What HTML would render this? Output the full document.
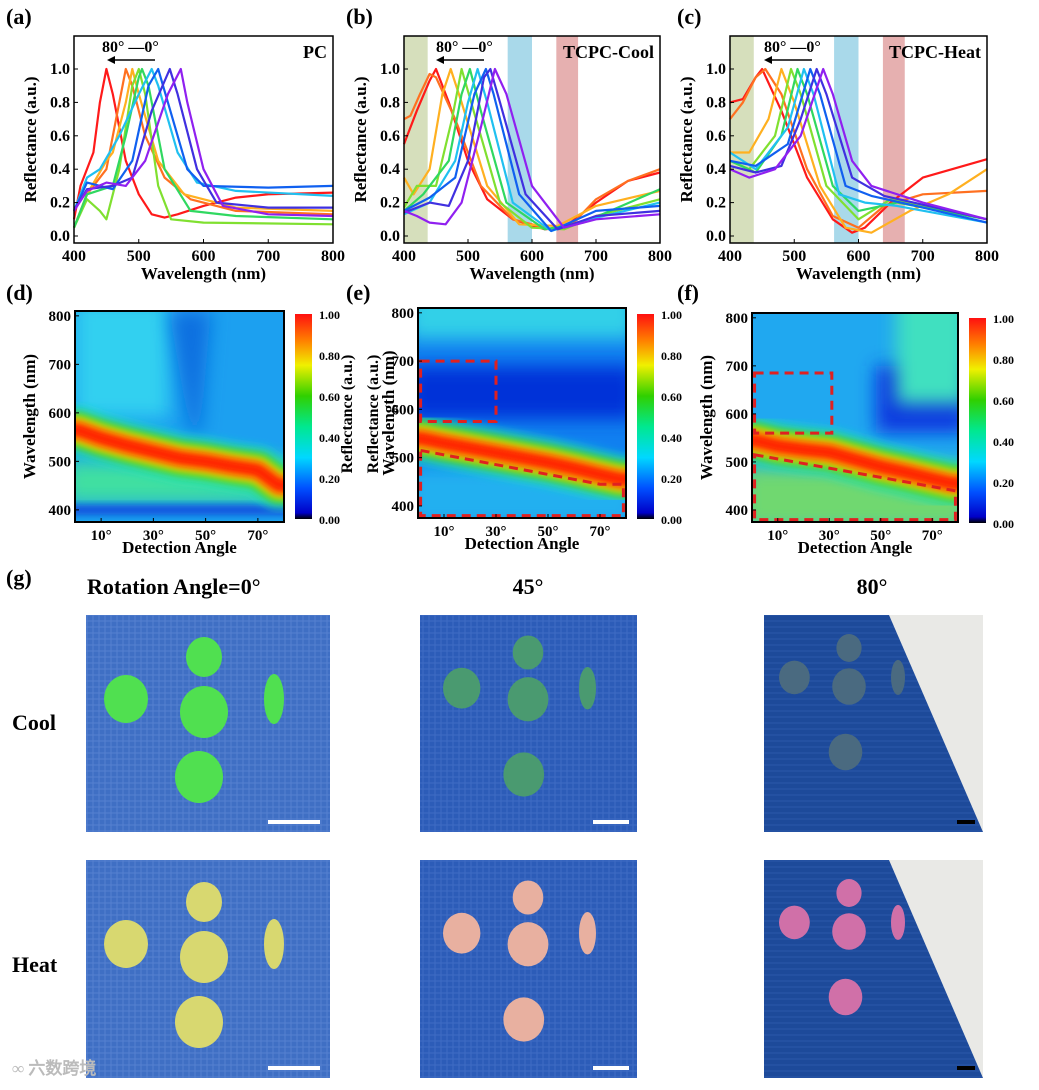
<!DOCTYPE html>
<html><head><meta charset="utf-8">
<style>
body{margin:0;background:#fff;width:1039px;height:1085px;overflow:hidden;font-family:"Liberation Serif",serif}
svg text{font-family:"Liberation Serif",serif;font-weight:bold}
</style></head>
<body>
<svg id="fig" width="1039" height="1085" viewBox="0 0 1039 1085" xmlns="http://www.w3.org/2000/svg">
<defs>
<filter id="blur4" x="-50%" y="-50%" width="200%" height="200%"><feGaussianBlur stdDeviation="4"/></filter>
<filter id="blur8" x="-50%" y="-50%" width="200%" height="200%"><feGaussianBlur stdDeviation="9"/></filter>
<filter id="blur2" x="-50%" y="-50%" width="200%" height="200%"><feGaussianBlur stdDeviation="2"/></filter>
<linearGradient id="cbar" x1="0" y1="1" x2="0" y2="0">
<stop offset="0" stop-color="#000"/><stop offset="0.03" stop-color="#0000c8"/><stop offset="0.15" stop-color="#0050ff"/><stop offset="0.3" stop-color="#00d8ff"/><stop offset="0.45" stop-color="#00e890"/><stop offset="0.6" stop-color="#30d000"/><stop offset="0.75" stop-color="#f0f000"/><stop offset="0.87" stop-color="#ff8000"/><stop offset="1" stop-color="#ff1010"/>
</linearGradient>
<pattern id="weave" width="6" height="6" patternUnits="userSpaceOnUse"><rect width="6" height="6" fill="#3f6fc4"/><path d="M0 3h6M3 0v6" stroke="#5580d0" stroke-width="1"/></pattern>
<pattern id="weave2" width="6" height="6" patternUnits="userSpaceOnUse"><rect width="6" height="6" fill="#2c5cb8"/><path d="M0 3h6M3 0v6" stroke="#3f6cc4" stroke-width="1"/></pattern>
<pattern id="weave3" width="6" height="6" patternUnits="userSpaceOnUse"><rect width="6" height="6" fill="#1d4a9a"/><path d="M0 3h6" stroke="#2a58aa" stroke-width="1"/></pattern>
</defs>
<g id="root"></g>
</svg>
<script>
// ---------- DATA ----------
const colorsA = ['#ff1a1a','#ff7020','#ffb020','#80e030','#30d860','#20c0f0','#1060f0','#4030e0','#9020f0'];
const seriesA = [
[[400,.1],[410,.3],[430,.5],[440,.8],[450,1],[460,.85],[480,.45],[500,.25],[520,.13],[540,.11],[560,.13],[600,.18],[650,.23],[700,.25],[800,.26]],
[[400,.05],[420,.25],[450,.4],[470,.8],[480,1],[490,.9],[510,.6],[540,.35],[580,.22],[650,.15],[800,.13]],
[[400,.05],[420,.25],[450,.45],[460,.5],[480,.8],[490,1],[500,.85],[530,.45],[570,.25],[650,.17],[800,.15]],
[[400,.05],[420,.22],[440,.15],[450,.1],[470,.4],[490,.9],[500,1],[510,.85],[530,.3],[550,.1],[600,.08],[800,.07]],
[[400,.05],[420,.25],[460,.3],[480,.6],[500,.95],[505,1],[515,.9],[540,.4],[580,.15],[650,.12],[800,.1]],
[[400,.15],[420,.35],[440,.4],[470,.6],[500,.85],[520,1],[530,.9],[560,.5],[590,.32],[650,.27],[800,.24]],
[[400,.15],[420,.32],[460,.28],[490,.45],[515,.9],[530,1],[545,.8],[575,.4],[600,.3],[700,.29],[800,.3]],
[[400,.15],[420,.28],[460,.3],[490,.35],[520,.75],[548,1],[560,.85],[590,.4],[620,.2],[700,.17],[800,.17]],
[[400,.15],[420,.27],[450,.32],[480,.3],[510,.45],[545,.85],[565,1],[575,.8],[600,.4],[630,.18],[700,.13],[800,.12]]
];
const seriesB = [
[[400,.55],[420,.75],[440,.93],[450,1],[470,.8],[500,.45],[530,.22],[570,.1],[620,.04],[650,.05],[700,.2],[750,.33],[800,.38]],
[[400,.7],[410,.72],[425,.85],[440,.97],[450,.95],[480,.7],[520,.3],[570,.1],[630,.04],[660,.06],[700,.22],[750,.33],[800,.4]],
[[400,.35],[415,.25],[440,.4],[460,.85],[473,1],[490,.8],[530,.3],[580,.07],[640,.06],[700,.18],[800,.27]],
[[400,.17],[420,.3],[450,.3],[475,.7],[490,1],[505,.8],[550,.2],[600,.05],[650,.04],[700,.12],[800,.22]],
[[400,.15],[430,.25],[470,.45],[490,.85],[503,1],[520,.75],[560,.2],[620,.04],[680,.08],[800,.28]],
[[400,.13],[440,.2],[480,.45],[500,.8],[515,1],[530,.8],[570,.2],[630,.03],[690,.1],[800,.2]],
[[400,.15],[440,.23],[480,.35],[510,.85],[528,1],[540,.85],[580,.25],[630,.03],[700,.15],[800,.18]],
[[400,.14],[440,.2],[470,.18],[500,.45],[525,.95],[535,1],[550,.8],[590,.25],[640,.04],[700,.12],[800,.15]],
[[400,.15],[420,.12],[440,.08],[465,.07],[490,.2],[520,.65],[542,1],[560,.85],[600,.3],[650,.05],[700,.1],[800,.13]]
];
const seriesC = [
[[400,.8],[420,.82],[440,.95],[450,1],[480,.75],[520,.35],[560,.1],[590,.02],[610,.05],[650,.2],[700,.35],[800,.46]],
[[400,.7],[420,.8],[440,.95],[455,1],[480,.85],[520,.4],[560,.12],[600,.05],[640,.18],[700,.25],[800,.27]],
[[400,.5],[430,.5],[460,.7],[480,1],[500,.8],[540,.3],[580,.05],[620,.02],[680,.15],[740,.25],[800,.4]],
[[400,.45],[430,.4],[470,.6],[495,1],[510,.85],[550,.3],[600,.1],[650,.22],[700,.18],[800,.1]],
[[400,.45],[440,.38],[480,.6],[505,1],[520,.85],[560,.3],[600,.15],[660,.2],[800,.1]],
[[400,.5],[440,.4],[490,.65],[515,1],[530,.85],[570,.25],[610,.2],[660,.18],[800,.08]],
[[400,.45],[440,.42],[490,.55],[525,1],[540,.85],[580,.3],[620,.24],[700,.17],[800,.08]],
[[400,.42],[440,.38],[480,.42],[510,.7],[535,1],[550,.85],[590,.35],[640,.24],[800,.1]],
[[400,.4],[430,.35],[470,.4],[510,.6],[545,1],[560,.85],[590,.45],[620,.3],[700,.2],[800,.1]]
];
const heatAngles = [1,10,20,30,40,50,60,70,78];
const peaksD = [565,548,533,520,507,500,490,482,450];
const peaksE = [540,530,520,510,500,490,478,465,455];
const peaksF = [545,533,526,520,505,490,478,465,455];
const xTicksLine = [400,500,600,700,800];
const yTicksLine = [0,0.2,0.4,0.6,0.8,1.0];
const heatXTicks = [10,30,50,70];
const heatYTicks = [400,500,600,700,800];
const cbarTicks = ['0.00','0.20','0.40','0.60','0.80','1.00'];

// ---------- helpers ----------
const NS='http://www.w3.org/2000/svg';
const root=document.getElementById('root');
function el(tag,attrs,parent,text){const e=document.createElementNS(NS,tag);for(const k in attrs)e.setAttribute(k,attrs[k]);if(text!==undefined)e.textContent=text;(parent||root).appendChild(e);return e;}

function lineChart(px,py,pw,ph,series,label,name,bands,arrowX,annX){
  const g=el('g',{});
  
  
  const top=py, y0=py+200, y1=py+33;
  const sx=w=>px+(w-400)/400*pw;
  const sy=r=>y0-(r)*(y0-y1);
  if(bands){bands.forEach(b=>{const r=el('rect',{x:sx(b[0]),y:top,width:sx(b[1])-sx(b[0]),height:ph,fill:b[2]},g);});}
  series.forEach((s,i)=>{
    const d=s.map((p,j)=>(j?'L':'M')+sx(p[0]).toFixed(1)+' '+sy(p[1]).toFixed(1)).join(' ');
    const p=el('path',{d:d,fill:'none',stroke:colorsA[i],'stroke-width':2.2,'stroke-linejoin':'round'},g);
    
    
  });
  el('rect',{x:px,y:top,width:pw,height:ph,fill:'none',stroke:'#000','stroke-width':1.5},g);
  xTicksLine.forEach(t=>{el('line',{x1:sx(t),x2:sx(t),y1:top+ph,y2:top+ph-4,stroke:'#000'},g);
    const tx=el('text',{x:sx(t),y:top+ph+18,'text-anchor':'middle','font-size':16},g,t);});
  yTicksLine.forEach(t=>{el('line',{x1:px,x2:px+4,y1:sy(t),y2:sy(t),stroke:'#000'},g);
    const tx=el('text',{x:px-4,y:sy(t)+5,'text-anchor':'end','font-size':16},g,t.toFixed(1));});
  const xt=el('text',{x:px+pw/2,y:top+ph+36,'text-anchor':'middle','font-size':17},g,'Wavelength (nm)');
  const yt=el('text',{transform:`translate(${px-38},${top+ph/2}) rotate(-90)`,'text-anchor':'middle','font-size':17},g,'Reflectance (a.u.)');
  const lb=el('text',{x:px+pw-6,y:top+22,'text-anchor':'end','font-size':18},g,label);
  const an=el('text',{x:annX,y:top+16,'font-size':16},g,'80°  —0°');
  el('line',{x1:arrowX+48,x2:arrowX+4,y1:top+24,y2:top+24,stroke:'#000','stroke-width':1.5},g);
  el('path',{d:`M${arrowX} ${top+24} l8 -4 l0 8z`,fill:'#000'},g);
}

function heatmap(px,py,pw,ph,peaks,name,bgFn,boxes,cbx,cby,cbLabelSide,ytitleX){
  const g=el('g',{});
  
  
  const sx=a=>px+(a-0)/80*pw;
  const sy=w=>py+ph-(w-375)/(810-375)*ph;
  const cid='clip'+name;
  const cp=el('clipPath',{id:cid},g);el('rect',{x:px,y:py,width:pw,height:ph},cp);
  const inner=el('g',{'clip-path':`url(#${cid})`},g);
  bgFn(inner,px,py,pw,ph,sy);
  const pts=heatAngles.map((a,i)=>sx(a).toFixed(1)+','+sy(peaks[i]).toFixed(1)).join(' ');
  const ext=`${px-10},${sy(peaks[0]).toFixed(1)} `+pts+` ${px+pw+10},${sy(peaks[peaks.length-1]).toFixed(1)}`;
  [[50,'#20e0c0',0.6],[36,'#40d020',0.9],[26,'#d8f000',1],[19,'#ff8000',1],[11,'#ff1800',1]].forEach(b=>{
    const l=el('polyline',{points:ext,fill:'none',stroke:b[1],'stroke-width':b[0],'stroke-opacity':b[2],'stroke-linejoin':'round',filter:'url(#blur4)'},inner);
    
    
  });
  if(boxes){boxes(g,sx,sy);}
  el('rect',{x:px,y:py,width:pw,height:ph,fill:'none',stroke:'#000','stroke-width':2},g);
  heatXTicks.forEach(t=>{el('line',{x1:sx(t),x2:sx(t),y1:py+ph,y2:py+ph-4,stroke:'#000'},g);
    const tx=el('text',{x:sx(t),y:py+ph+18,'text-anchor':'middle','font-size':15},g,t+'°');});
  heatYTicks.forEach(t=>{el('line',{x1:px,x2:px+4,y1:sy(t),y2:sy(t),stroke:'#000'},g);
    const tx=el('text',{x:px-4,y:sy(t)+5,'text-anchor':'end','font-size':15},g,t);});
  const xt=el('text',{x:px+pw/2,y:py+ph+31,'text-anchor':'middle','font-size':17},g,'Detection Angle');
  const yt=el('text',{transform:`translate(${ytitleX},${py+ph/2}) rotate(-90)`,'text-anchor':'middle','font-size':17},g,'Wavelength (nm)');
  const cb=el('rect',{x:cbx,y:cby,width:17,height:205,fill:'url(#cbar)'},g);
  cbarTicks.forEach((t,i)=>{const tx=el('text',{x:cbx+24,y:cby+205-i*41+5,'font-size':12},g,t);});
  if(cbLabelSide){const cl=el('text',{transform:`translate(${cbLabelSide},${cby+100}) rotate(-90)`,'text-anchor':'middle','font-size':16},g,'Reflectance (a.u.)');}
}

// ---------- panel labels ----------
[['(a)',6,24],['(b)',346,24],['(c)',677,24],['(d)',6,300],['(e)',346,300],['(f)',677,300],['(g)',6,585]].forEach(l=>{
  const t=el('text',{x:l[1],y:l[2],'font-size':22},root,l[0]);
});

lineChart(74,36,259,207,seriesA,'PC','chart-a-pc',null,107,102);
lineChart(404,36,256,207,seriesB,'TCPC-Cool','chart-b-tcpc-cool',[[400,437,'#d6dfbc'],[562,600,'#a9d9ea'],[638,672,'#e6b0b0']],436,436);
lineChart(730,36,257,207,seriesC,'TCPC-Heat','chart-c-tcpc-heat',[[400,437,'#d6dfbc'],[562,600,'#a9d9ea'],[638,672,'#e6b0b0']],764,764);

function bgD(g,px,py,pw,ph,sy){
  el('rect',{x:px,y:py,width:pw,height:ph,fill:'#1ca0f0'},g);
  el('rect',{x:px,y:py-10,width:pw*0.45,height:ph*0.55,fill:'#30d0f0',filter:'url(#blur8)'},g);
  el('path',{d:`M${px+pw*0.45} ${py} L${px+pw*0.65} ${py} L${px+pw*0.6} ${sy(560)} L${px+pw*0.55} ${sy(560)}z`,fill:'#0a70e0',filter:'url(#blur8)'},g);
  el('rect',{x:px-10,y:sy(500),width:pw+20,height:sy(415)-sy(500),fill:'#40e0a0',filter:'url(#blur8)'},g);
  el('rect',{x:px-10,y:sy(410),width:pw+20,height:sy(390)-sy(410),fill:'#0848e0',filter:'url(#blur4)'},g);
}
function bgE(g,px,py,pw,ph,sy){
  el('rect',{x:px,y:py,width:pw,height:ph,fill:'#1080f0'},g);
  el('rect',{x:px-10,y:sy(690),width:pw+20,height:sy(580)-sy(690),fill:'#0030d8',filter:'url(#blur8)'},g);
  el('rect',{x:px-10,y:py-20,width:pw+20,height:sy(745)-py+20,fill:'#30d0e8',filter:'url(#blur8)'},g);
  el('rect',{x:px-10,y:sy(480),width:pw+20,height:sy(360)-sy(480),fill:'#20b0f0',filter:'url(#blur8)'},g);
}
function bgF(g,px,py,pw,ph,sy){
  el('rect',{x:px,y:py,width:pw,height:ph,fill:'#20a8f0'},g);
  el('rect',{x:px+pw*0.6,y:sy(700),width:pw*0.4+10,height:sy(560)-sy(700),fill:'#0838e0',filter:'url(#blur8)'},g);
  el('rect',{x:px+pw*0.7,y:py-20,width:pw*0.3+10,height:sy(620)-py+20,fill:'#40e0c0',filter:'url(#blur8)'},g);
  el('rect',{x:px-10,y:sy(490),width:pw+20,height:sy(360)-sy(490),fill:'#70d870',filter:'url(#blur8)'},g);
}
function boxesE(g,sx,sy){
  el('rect',{x:sx(1),y:sy(700),width:sx(30)-sx(1),height:sy(575)-sy(700),fill:'none',stroke:'#e02020','stroke-width':3,'stroke-dasharray':'9 6'},g);
  el('path',{d:`M${sx(1)} ${sy(515)} L${sx(70)} ${sy(445)} L${sx(79)} ${sy(445)} L${sx(79)} ${sy(380)} L${sx(1)} ${sy(380)}z`,fill:'none',stroke:'#e02020','stroke-width':3,'stroke-dasharray':'9 6'},g);
}
function boxesF(g,sx,sy){
  el('rect',{x:sx(1),y:sy(685),width:sx(31)-sx(1),height:sy(560)-sy(685),fill:'none',stroke:'#e02020','stroke-width':3,'stroke-dasharray':'9 6'},g);
  el('path',{d:`M${sx(1)} ${sy(515)} L${sx(79)} ${sy(440)} L${sx(79)} ${sy(380)} L${sx(1)} ${sy(380)}z`,fill:'none',stroke:'#e02020','stroke-width':3,'stroke-dasharray':'9 6'},g);
}
heatmap(75,311,209,211,peaksD,'heatmap-d',bgD,null,295,314,352,35);
heatmap(418,308,208,210,peaksE,'heatmap-e',bgE,boxesE,637,314,378,394);
heatmap(752,313,206,209,peaksF,'heatmap-f',bgF,boxesF,969,318,0,712);

// ---------- photo grid ----------
[['Rotation Angle=0°',87,594,'start'],['45°',528,594,'middle'],['80°',872,594,'middle'],['Cool',12,730,'start'],['Heat',12,972,'start']].forEach(l=>{
  const t=el('text',{x:l[1],y:l[2],'font-size':22,'text-anchor':l[3]},root,l[0]);
});
const photoCols=[[86,244,'url(#weave)'],[420,217,'url(#weave2)'],[764,219,'url(#weave3)']];
const photoRows=[[615,217],[860,218]];
const shapeColors=[['#50e050','#4a9a70','#4a6a80'],['#d8d870','#e8b0a0','#d070a8']];
photoRows.forEach((r,ri)=>photoCols.forEach((c,ci)=>{
  const g=el('g',{});
  
  
  el('rect',{x:c[0],y:r[0],width:c[1],height:r[1],fill:c[2]},g);
  if(ci===2){el('path',{d:`M${c[0]+125} ${r[0]} L${c[0]+c[1]} ${r[0]} L${c[0]+c[1]} ${r[0]+r[1]}z`,fill:'#e9e9e6'},g);}
  const col=shapeColors[ri][ci];
  const sc=ci===0?1:(ci===1?0.85:0.7);
  const cx=c[0]+(ci===0?118:(ci===1?108:85));
  const cy=r[0]+12;
  [[0,0,14],[0,0,20],[-78,72,18],[70,72,12],[-5,170,20]].forEach((s,k)=>{
    const ex=cx+s[0]*sc, ey=cy+(k===0?30:(k===1?85:(k===4?150:s[1])))*sc+(ci>0&&k===4?20:0);
    const e=el('ellipse',{cx:ex,cy:ey,rx:(k===3?10:s[2]+4)*sc,ry:(k===3?25:s[2]+6)*sc,fill:col},g);
    
    
  });
  const bw=ci===2?18:(ci===0?52:36);
  el('rect',{x:c[0]+c[1]-(ci===2?26:(ci===0?62:44)),y:r[0]+r[1]-12,width:bw,height:4,fill:ci===2?'#000':'#fff'},g);
}));
const wm=el('text',{x:12,y:1074,'font-size':17,fill:'#bbb','font-family':'"Liberation Sans","Noto Sans CJK SC",sans-serif'},root,'∞ 六数跨境');


</script>
</body></html>
